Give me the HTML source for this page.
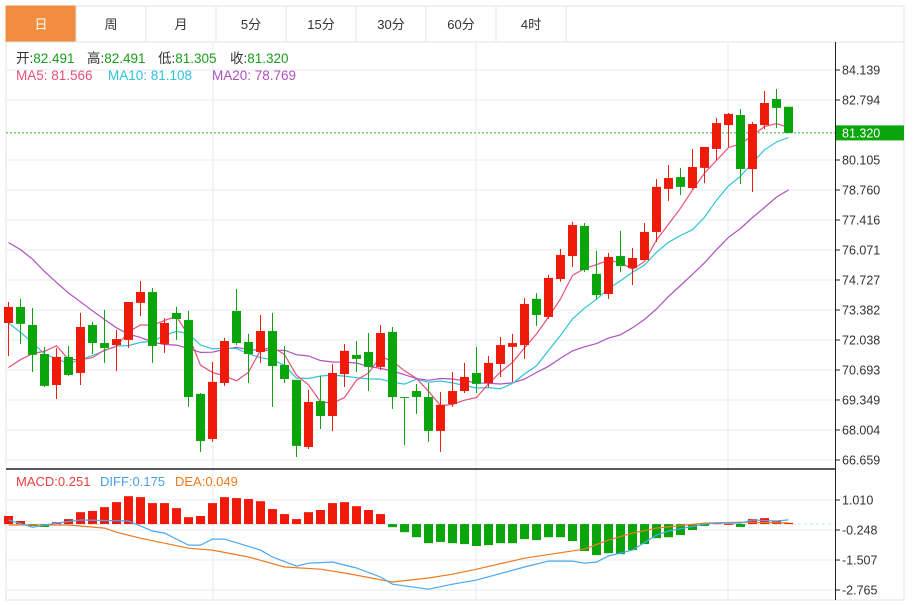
<!DOCTYPE html>
<html><head><meta charset="utf-8">
<style>
body{margin:0;background:#fff;width:913px;height:605px;overflow:hidden;font-family:"Liberation Sans","Noto Sans CJK SC",sans-serif;}
svg{display:block}
</style></head>
<body>
<svg id="chart" width="913" height="605" xmlns="http://www.w3.org/2000/svg" font-family="Liberation Sans, Noto Sans CJK SC, sans-serif">
<g id="tabs"></g>
<g id="grid"></g>
<g id="ma"></g>
<g id="candles"></g>
<g id="macd"></g>
<g id="axis"></g>
<g font-size="13.5">
<text x="16" y="63" fill="#333">开:<tspan fill="#1a9c1a">82.491</tspan></text>
<text x="87" y="63" fill="#333">高:<tspan fill="#1a9c1a">82.491</tspan></text>
<text x="158" y="63" fill="#333">低:<tspan fill="#1a9c1a">81.305</tspan></text>
<text x="230" y="63" fill="#333">收:<tspan fill="#1a9c1a">81.320</tspan></text>
<text x="16" y="80" fill="#e8507a">MA5: 81.566</text>
<text x="108" y="80" fill="#2ec3d8">MA10: 81.108</text>
<text x="212" y="80" fill="#b050c0">MA20: 78.769</text>
</g>
<g font-size="13">
<text x="16" y="486" fill="#e84040">MACD:0.251</text>
<text x="100" y="486" fill="#4a9ee8">DIFF:0.175</text>
<text x="175" y="486" fill="#f07a20">DEA:0.049</text>
</g>
</svg>
<script>
const opens=[72.80,73.52,72.71,71.41,70.02,71.28,70.56,72.71,71.90,71.81,72.04,73.70,74.19,71.86,73.25,72.93,69.62,67.60,70.11,73.34,71.95,71.50,72.44,70.92,70.25,67.24,69.30,68.63,70.51,71.37,71.50,70.83,72.40,69.48,69.75,69.48,67.96,69.17,69.75,70.56,70.11,70.96,71.73,71.81,73.88,73.07,74.77,75.80,77.15,75.00,74.10,75.80,75.26,75.62,76.88,78.81,79.34,78.85,79.75,80.60,81.67,82.12,79.70,81.67,82.84,82.491];
const highs=[73.74,73.88,73.47,71.73,71.68,71.77,73.25,72.85,73.38,72.49,73.74,74.68,74.37,73.02,73.52,73.34,69.66,71.05,72.13,74.32,72.31,73.16,73.25,71.77,70.25,69.80,70.43,70.96,71.86,71.99,72.35,72.71,72.62,69.48,70.07,70.11,69.71,70.60,71.01,71.73,71.32,72.17,72.31,73.92,74.14,74.95,76.12,77.33,77.28,76.03,75.94,76.92,76.16,77.28,79.25,79.88,79.75,80.60,80.69,81.99,82.21,82.39,81.81,83.20,83.29,82.491];
const lows=[71.32,71.86,70.60,69.93,69.39,70.43,70.02,71.41,71.01,70.65,71.68,73.11,71.01,71.46,72.04,69.04,67.02,67.47,69.98,71.81,70.11,71.01,69.04,70.11,66.79,67.15,68.05,67.96,69.93,70.60,69.75,70.69,68.95,67.33,68.72,67.47,67.02,69.04,69.66,69.66,69.93,70.38,70.16,71.19,72.67,72.98,74.64,75.31,75.08,73.88,73.88,75.08,74.50,75.62,76.43,78.27,78.54,78.81,79.07,80.10,80.69,79.03,78.67,81.49,81.54,81.305];
const closes=[73.52,72.76,71.37,69.98,71.28,70.47,72.62,71.90,71.68,72.08,73.74,74.19,71.77,72.80,72.98,69.48,67.51,70.16,71.99,71.90,71.41,72.44,70.87,70.29,67.29,69.26,68.63,70.56,71.55,71.19,70.83,72.35,69.48,69.44,69.48,67.96,69.13,69.75,70.38,70.07,71.01,71.81,71.90,73.65,73.16,74.82,75.85,77.19,75.17,74.05,75.76,75.35,75.71,76.88,78.90,79.30,78.90,79.79,80.69,81.76,82.17,79.70,81.72,82.66,82.44,81.320];
const priorCloses=[79,80,81,81,80,80.5,80,79.5,79.5,79.5,77,76,75,73.5,72.5,71,70,69.5,70];
const priceTicks=[84.139,82.794,80.105,78.760,77.416,76.071,74.727,73.382,72.038,70.693,69.349,68.004,66.659];
const macdHist=[0.34,0.13,-0.08,-0.12,0.08,0.21,0.50,0.55,0.71,0.92,1.17,1.13,0.88,0.88,0.67,0.29,0.34,0.88,1.13,1.09,1.05,0.96,0.63,0.42,0.21,0.50,0.59,0.88,0.92,0.75,0.59,0.42,-0.13,-0.34,-0.55,-0.80,-0.75,-0.80,-0.84,-0.92,-0.88,-0.80,-0.80,-0.63,-0.67,-0.55,-0.55,-0.71,-1.13,-1.30,-1.22,-1.26,-1.09,-0.84,-0.59,-0.55,-0.46,-0.25,-0.08,0.04,0.01,-0.12,0.21,0.25,0.13,0.05];
const diffIdx=[0,2,4,6,10,12,13,15,16,17,18,21,22,24,25,27,29,31,32,35,37,39,43,45,47,48,49,50,52,54,55,58,59,61,62,64,65];
const diffVals=[0.17,-0.13,0.04,0.17,0.13,-0.29,-0.38,-0.88,-0.88,-0.63,-0.63,-1.09,-1.38,-1.76,-1.64,-1.59,-1.84,-2.22,-2.52,-2.73,-2.52,-2.35,-1.80,-1.55,-1.55,-1.64,-1.59,-1.34,-1.09,-0.46,-0.29,0,0.04,0.04,0.17,0.13,0.175];
const deaIdx=[0,5,8,9,11,15,17,20,23,26,28,32,35,37,39,43,48,50,52,54,58,61,65];
const deaVals=[-0.04,-0.04,-0.17,-0.34,-0.59,-1.01,-1.09,-1.38,-1.80,-1.89,-2.05,-2.43,-2.26,-2.10,-1.89,-1.43,-1.05,-0.67,-0.38,-0.17,0.04,0.08,0.049];
const macdTicks=[1.010,-0.248,-1.507,-2.765];
const tabLabels=['日','周','月','5分','15分','30分','60分','4时'];

const NS='http://www.w3.org/2000/svg';
function mk(tag,attrs,parent){const e=document.createElementNS(NS,tag);for(const k in attrs)e.setAttribute(k,attrs[k]);parent.appendChild(e);return e;}
const xOf=i=>8.5+12*i;
const yP=v=>70+(84.139-v)*22.31;
const yM=v=>530-(v+0.248)*23.85;
const RED='#f01a0a',GREEN='#0aa50a';

const tabs=document.getElementById('tabs');
mk('rect',{x:6,y:6,width:898,height:594,fill:'none',stroke:'#dfe3e8'},tabs);
tabLabels.forEach((t,i)=>{
  const g=mk('g',{},tabs);
  
  
  mk('rect',{x:6+70*i,y:6,width:70,height:36,fill:i===0?'#f28c3f':'#fff',stroke:i===0?'#f28c3f':'#dfe3e8'},g);
  const tx=mk('text',{x:41+70*i,y:29,'text-anchor':'middle','font-size':13,fill:i===0?'#fff':'#333'},g);
  tx.textContent=t;
});
mk('line',{x1:6,y1:42,x2:904,y2:42,stroke:'#dfe3e8'},tabs);

const grid=document.getElementById('grid');
priceTicks.forEach(v=>mk('line',{x1:6,y1:yP(v),x2:835,y2:yP(v),stroke:'#e3ebf2'},grid));
macdTicks.forEach(v=>mk('line',{x1:6,y1:yM(v),x2:835,y2:yM(v),stroke:'#e3ebf2'},grid));
[213,476,728].forEach(x=>mk('line',{x1:x,y1:42,x2:x,y2:600,stroke:'#e3ebf2'},grid));
mk('line',{x1:6,y1:469,x2:835,y2:469,stroke:'#222','stroke-width':1.5},grid);
mk('line',{x1:6,y1:yM(0),x2:835,y2:yM(0),stroke:'#bfe3f2','stroke-dasharray':'3,3'},grid);
mk('line',{x1:6,y1:yP(81.32),x2:835,y2:yP(81.32),stroke:'#3ab03a','stroke-dasharray':'2,2'},grid);

const all=priorCloses.concat(closes);const off=priorCloses.length;
function ma(n){return closes.map((c,i)=>{let s=0;for(let k=0;k<n;k++)s+=all[off+i-k];return s/n;});}
const maG=document.getElementById('ma');
[[20,'#b050c0','ma20-line'],[10,'#2ec3d8','ma10-line'],[5,'#e8507a','ma5-line']].forEach(([n,col,name])=>{
  const p=ma(n).map((v,i)=>xOf(i)+','+yP(v).toFixed(1)).join(' ');
  const pl=mk('polyline',{points:p,fill:'none',stroke:col,'stroke-width':1.2},maG);
  
  
});

const cg=document.getElementById('candles');
closes.forEach((c,i)=>{
  const o=opens[i],up=c>=o,col=up?RED:GREEN,x=xOf(i);
  const g=mk('g',{},cg);
  
  
  mk('line',{x1:x,y1:yP(highs[i]),x2:x,y2:yP(lows[i]),stroke:col,'stroke-width':1},g);
  const t=yP(Math.max(o,c)),b=yP(Math.min(o,c));
  mk('rect',{x:x-4.5,y:t,width:9,height:Math.max(1,b-t),fill:col},g);
});

const mg=document.getElementById('macd');
macdHist.forEach((v,i)=>{
  const y0=yM(0),y1=yM(v);
  const r=mk('rect',{x:xOf(i)-4.5,y:Math.min(y0,y1),width:9,height:Math.max(1,Math.abs(y1-y0)),fill:v>=0?RED:GREEN},mg);
  
  
});
const dl=mk('polyline',{points:deaIdx.map((k,j)=>xOf(k)+','+yM(deaVals[j]).toFixed(1)).join(' '),fill:'none',stroke:'#f07a20','stroke-width':1.2},mg);


const fl=mk('polyline',{points:diffIdx.map((k,j)=>xOf(k)+','+yM(diffVals[j]).toFixed(1)).join(' '),fill:'none',stroke:'#4aa8f0','stroke-width':1.2},mg);



const ax=document.getElementById('axis');
mk('line',{x1:835.5,y1:42,x2:835.5,y2:600,stroke:'#222'},ax);
priceTicks.forEach(v=>{
  mk('line',{x1:835,y1:yP(v),x2:840,y2:yP(v),stroke:'#222'},ax);
  const t=mk('text',{x:842,y:yP(v)+4.5,'font-size':12.5,fill:'#333'},ax);
  t.textContent=v.toFixed(3);
});
macdTicks.forEach(v=>{
  mk('line',{x1:835,y1:yM(v),x2:840,y2:yM(v),stroke:'#222'},ax);
  const t=mk('text',{x:842,y:yM(v)+4.5,'font-size':12.5,fill:'#333'},ax);
  t.textContent=v.toFixed(3);
});
const lab=mk('g',{},ax);


mk('rect',{x:836,y:yP(81.32)-7.5,width:68,height:15,fill:'#0aa50a'},lab);
const lt=mk('text',{x:842,y:yP(81.32)+4.5,'font-size':12.5,fill:'#fff'},lab);
lt.textContent='81.320';
</script>
</body></html>
